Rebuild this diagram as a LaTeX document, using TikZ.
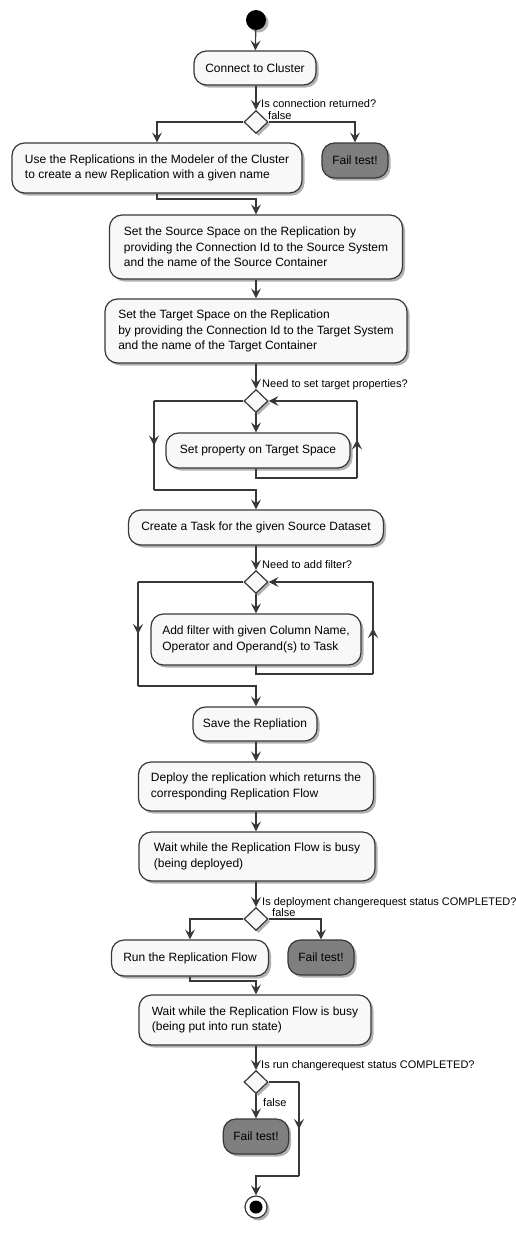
\documentclass[tikz,border=0pt]{standalone}
\usepackage{fontspec}
\setmainfont{Liberation Sans}
\usetikzlibrary{shapes.geometric,arrows.meta,shadows,decorations.markings}
\definecolor{linec}{HTML}{383838}
\definecolor{boxfill}{HTML}{F8F8F8}
\definecolor{failfill}{HTML}{7F7F7F}
\tikzset{
  shad/.style={drop shadow={shadow xshift=2.5pt, shadow yshift=-2.5pt, opacity=0.3, fill=black}},
  act/.style={draw=linec, line width=1.2pt, fill=boxfill, rounded corners=12.5pt,
    inner xsep=10pt, inner ysep=0pt, align=left, text=black,
    font=\fontsize{12}{15.5}\selectfont, shad},
  one/.style={align=center},
  failbox/.style={act, one, fill=failfill},
  dec/.style={diamond, draw=linec, fill=boxfill, line width=1.2pt, inner sep=0pt,
    minimum width=24pt, minimum height=23pt, shad},
  flow/.style={draw=linec, color=linec, line width=1.2pt},
  arr/.style={flow, -{Stealth[length=10pt,width=10pt,inset=4pt]}},
  midarr/.style={flow, postaction={decorate}, decoration={markings,
    mark=at position 0.5 with {\arrow{Stealth[length=10pt,width=10pt,inset=4pt]}}}},
  lbl/.style={font=\fontsize{11}{13}\selectfont, inner sep=0pt, anchor=base west, text=black},
}
\begin{document}
\begin{tikzpicture}[x=1pt, y=-1pt]
\useasboundingbox[fill=white] (0,0) rectangle (516,1234);

% nodes
\node[circle, fill=black, minimum size=20pt, inner sep=0pt, shad] (start) at (256,20) {};
\node[act, one, minimum width=122pt, minimum height=34pt] (connect) at (255,68) {Connect to Cluster};
\node[dec] (d1) at (256,122) {};
\node[act, minimum width=290pt, minimum height=50pt] (use) at (157,168)
  {Use the Replications in the Modeler of the Cluster\\to create a new Replication with a given name};
\node[failbox, minimum width=66pt, minimum height=35pt] (fail1) at (355,160.5) {Fail test!};
\node[act, minimum width=293pt, minimum height=64pt] (source) at (256,247)
  {Set the Source Space on the Replication by\\providing the Connection Id to the Source System\\and the name of the Source Container};
\node[act, minimum width=302pt, minimum height=64pt] (target) at (256,331)
  {Set the Target Space on the Replication\\by providing the Connection Id to the Target System\\and the name of the Target Container};
\node[dec] (d2) at (256,401) {};
\node[act, one, minimum width=184pt, minimum height=35pt] (setprop) at (258,450.5) {Set property on Target Space};
\node[act, one, minimum width=255pt, minimum height=35pt] (task) at (256,527.5) {Create a Task for the given Source Dataset};
\node[dec] (d3) at (256,582) {};
\node[act, minimum width=210pt, minimum height=51pt] (filter) at (256,639.5)
  {Add filter with given Column Name,\\Operator and Operand(s) to Task};
\node[act, one, minimum width=124pt, minimum height=34pt] (save) at (255,724) {Save the Repliation};
\node[act, minimum width=235pt, minimum height=49pt] (deploy) at (256,786.5)
  {Deploy the replication which returns the\\corresponding Replication Flow};
\node[act, minimum width=236pt, minimum height=49pt] (wait1) at (257,856.5)
  {Wait while the Replication Flow is busy\\(being deployed)};
\node[dec] (d4) at (256,919) {};
\node[act, one, minimum width=157pt, minimum height=36pt] (run) at (190,958) {Run the Replication Flow};
\node[failbox, minimum width=66pt, minimum height=35pt] (fail2) at (321,957.5) {Fail test!};
\node[act, minimum width=232pt, minimum height=50pt] (wait2) at (255,1020)
  {Wait while the Replication Flow is busy\\(being put into run state)};
\node[dec] (d5) at (256,1082) {};
\node[failbox, minimum width=65pt, minimum height=35pt] (fail3) at (256,1136.5) {Fail test!};
\node[circle, draw=linec, line width=1.2pt, fill=white, minimum size=22pt, inner sep=0pt, shad] (end) at (256,1207) {};
\node[circle, fill=black, minimum size=13pt, inner sep=0pt] (endin) at (end.center) {};

% labels
\node[lbl] (q1) at (261,107) {Is connection returned?};
\node[lbl] (f1) at (268,119) {false};
\node[lbl] (q2) at (262,387) {Need to set target properties?};
\node[lbl] (q3) at (262,568) {Need to add filter?};
\node[lbl] (q4) at (262,905) {Is deployment changerequest status COMPLETED?};
\node[lbl] (f4) at (272,916) {false};
\node[lbl] (q5) at (261,1068) {Is run changerequest status COMPLETED?};
\node[lbl] (f5) at (263,1106) {false};

% bend points
\coordinate (j1) at (256,199);
\coordinate (l2a) at (154,401);
\coordinate (l2b) at (154,490);
\coordinate (j2) at (256,490);
\coordinate (b2a) at (256,478);
\coordinate (b2b) at (357,478);
\coordinate (b2c) at (357,401);
\coordinate (l3a) at (138,582);
\coordinate (l3b) at (138,686);
\coordinate (j3) at (256,686);
\coordinate (b3a) at (256,674);
\coordinate (b3b) at (373,674);
\coordinate (b3c) at (373,582);
\coordinate (j4) at (256,981);
\coordinate (r5a) at (299,1082);
\coordinate (r5b) at (299,1176);
\coordinate (j5) at (256,1176);

% connectors
\draw[arr] (start) -- (connect);
\draw[arr] (connect.south -| d1.north) -- (d1.north);
\draw[arr] (d1.west) -| (use.north);
\draw[arr] (d1.east) -| (fail1.north);
\draw[arr] (use.south) |- (j1) -- (source.north);
\draw[arr] (source) -- (target);
\draw[arr] (target) -- (d2);
\draw[arr] (d2.south) -- (d2.south |- setprop.north);
\draw[flow] (d2.south |- setprop.south) -- (b2a) -- (b2b);
\draw[midarr] (b2b) -- (b2c);
\draw[arr] (b2c) -- (d2.east);
\draw[flow] (d2.west) -- (l2a);
\draw[midarr] (l2a) -- (l2b);
\draw[arr] (l2b) -- (j2) -- (task.north);
\draw[arr] (task) -- (d3);
\draw[arr] (d3.south) -- (filter.north);
\draw[flow] (filter.south) -- (b3a) -- (b3b);
\draw[midarr] (b3b) -- (b3c);
\draw[arr] (b3c) -- (d3.east);
\draw[flow] (d3.west) -- (l3a);
\draw[midarr] (l3a) -- (l3b);
\draw[arr] (l3b) -- (j3) -- (save.north -| j3);
\draw[arr] (save.south -| deploy.north) -- (deploy.north);
\draw[arr] (deploy.south) -- (deploy.south |- wait1.north);
\draw[arr] (wait1.south -| d4.north) -- (d4.north);
\draw[arr] (d4.west) -| (run.north);
\draw[arr] (d4.east) -| (fail2.north);
\draw[arr] (run.south) |- (j4) -- (j4 |- wait2.north);
\draw[arr] (wait2.south -| d5.north) -- (d5.north);
\draw[arr] (d5.south) -- (fail3.north);
\draw[flow] (d5.east) -- (r5a);
\draw[midarr] (r5a) -- (r5b);
\draw[arr] (r5b) -- (j5) -- (end.north);
\end{tikzpicture}
\end{document}
